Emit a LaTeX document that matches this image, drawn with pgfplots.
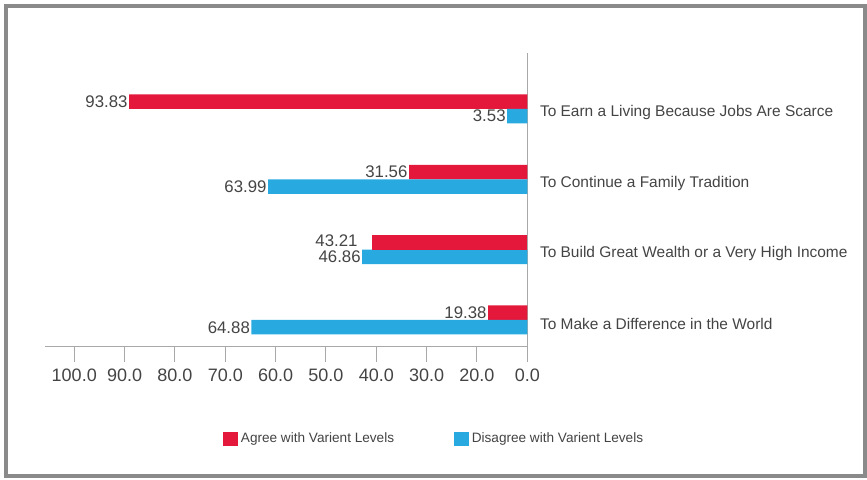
\documentclass[border=0pt]{standalone}
\usepackage{pgfplots}
\pgfplotsset{compat=1.18}
\usepackage{fontspec}
\setmainfont{Liberation Sans}
\definecolor{agreec}{HTML}{E4183A}
\definecolor{disagc}{HTML}{28AAE1}
\definecolor{txtc}{HTML}{444444}
\definecolor{framec}{HTML}{8A8A8A}
\definecolor{axisc}{HTML}{A8A8A8}

\begin{document}
\begin{tikzpicture}[x=0.75pt,y=0.75pt]
\path[use as bounding box] (0,0) rectangle (867,479);
\draw[framec, line width=3pt] (6,3) rectangle (865,473.2);
\begin{axis}[
  at={(395.5pt,99.75pt)}, anchor=south east,
  scale only axis, width=361.7pt, height=220pt,
  xbar, x dir=reverse,
  xmin=0, xmax=95.8, ymin=-0.37, ymax=3.80,
  axis x line*=bottom, axis y line*=right,
  xtick={0,10,...,90},
  xticklabels={0.0,20.0,30.0,40.0,50.0,60.0,70.0,80.0,90.0,100.0},
  ytick={0,1,2,3},
  yticklabels={To Make a Difference in the World,To Build Great Wealth or a Very High Income,To Continue a Family Tradition,To Earn a Living Because Jobs Are Scarce},
  tick align=outside, major tick length=12pt,
  axis line style={draw=axisc, line width=0.75pt},
  x tick style={draw=axisc, line width=0.75pt},
  y tick style={draw=none},
  xticklabel style={font=\fontsize{13.5}{15}\selectfont, text=txtc, yshift=-1.5pt},
  yticklabel style={font=\fontsize{11.6}{13}\selectfont, text=txtc, anchor=west, xshift=-6pt, yshift=-3pt},
  bar width=10.9pt,
  nodes near coords, point meta=explicit symbolic,
  every node near coord/.append style={anchor=east, font=\fontsize{12.6}{14}\selectfont, text=txtc, inner xsep=1pt, inner ysep=0pt},
  legend style={at={(0.8076,-0.317)}, anchor=center, draw=none, legend columns=2,
    font=\fontsize{10.2}{12}\selectfont, text=txtc,
    /tikz/every even column/.append style={column sep=43pt}},
  legend image code/.code={\fill[#1,draw=none] (0pt,-5.6pt) rectangle (11.25pt,5.6pt);},
]
\addplot[fill=agreec, draw=none, bar shift=5.44pt]
  coordinates {(79.1,3) [93.83] (23.5,2) [31.56] (7.8,0) [19.38]};
\addlegendentry{Agree with Varient Levels}
\addplot[fill=disagc, draw=none, bar shift=-5.44pt]
  coordinates {(4.0,3) [3.53] (51.5,2) [63.99] (32.8,1) [46.86] (54.8,0) [64.88]};
\addlegendentry{Disagree with Varient Levels}
\addplot[fill=agreec, draw=none, bar shift=5.44pt, forget plot,
  every node near coord/.append style={xshift=-9.5pt, yshift=1.2pt}]
  coordinates {(30.9,1) [43.21]};
\end{axis}
\end{tikzpicture}
\end{document}
